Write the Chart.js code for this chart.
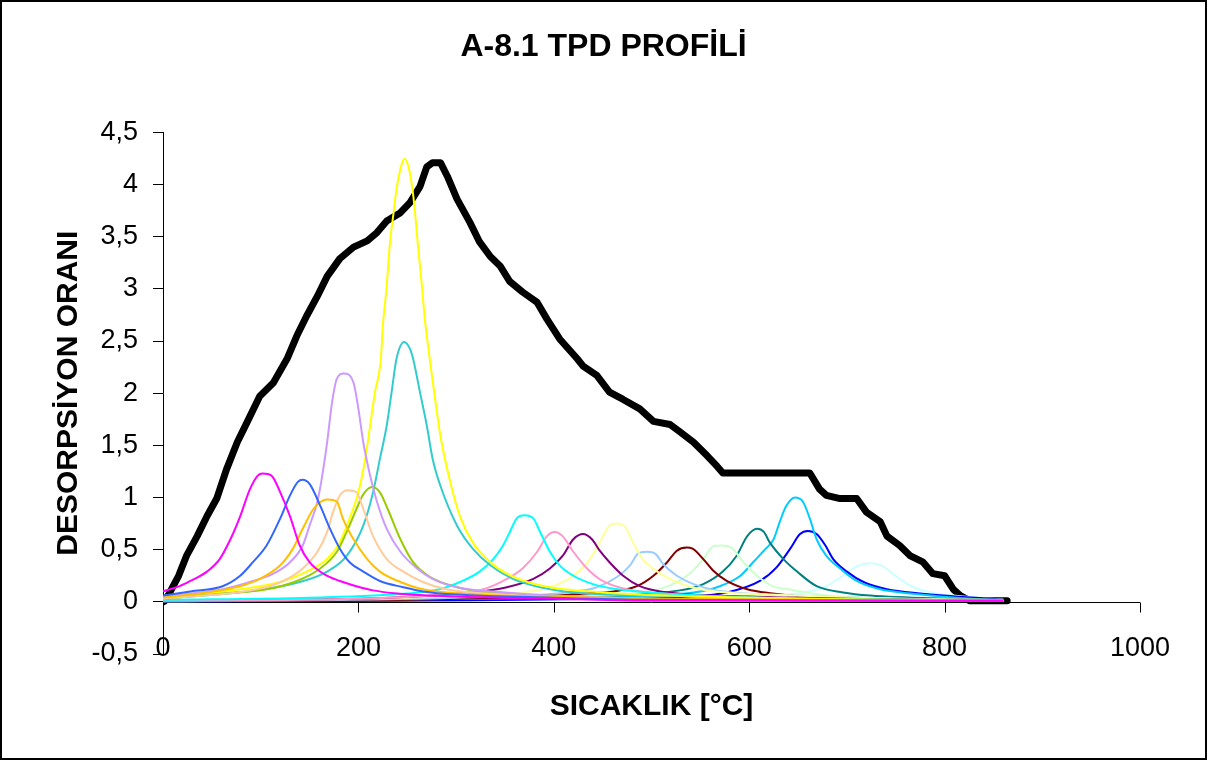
<!DOCTYPE html>
<html>
<head>
<meta charset="utf-8">
<script src="https://cdn.jsdelivr.net/npm/chart.js@4.4.1/dist/chart.umd.min.js"></script>
<style>
  body { margin: 0; background: #fff; }
  #wrap { width: 1207px; height: 761px; }
</style>
</head>
<body>
<div id="wrap"><canvas id="tpd"></canvas></div>
<script>
// temperature [°C] / desorption rate pairs
const totalT = [0, 2, 7, 16, 24, 35, 45, 55, 65, 76, 86, 99, 113, 127, 137, 147, 158, 168, 181, 195, 209, 219, 229, 243, 253, 263, 270, 276, 284, 291, 301, 314, 324, 335, 345, 355, 368, 383, 393, 406, 424, 430, 444, 457, 471, 488, 502, 519, 529, 543, 557, 567, 573, 662, 672, 679, 693, 710, 720, 734, 741, 754, 765, 778, 788, 800, 809, 816, 826, 864];
const totalV = [0, 0.01, 0.09, 0.25, 0.44, 0.63, 0.82, 0.99, 1.27, 1.53, 1.72, 1.97, 2.1, 2.33, 2.55, 2.74, 2.93, 3.12, 3.29, 3.4, 3.46, 3.54, 3.65, 3.73, 3.83, 3.98, 4.17, 4.21, 4.21, 4.08, 3.86, 3.64, 3.45, 3.31, 3.22, 3.07, 2.97, 2.87, 2.71, 2.52, 2.33, 2.26, 2.17, 2.01, 1.94, 1.85, 1.73, 1.7, 1.63, 1.53, 1.4, 1.3, 1.235, 1.235, 1.08, 1.02, 0.99, 0.99, 0.86, 0.77, 0.63, 0.54, 0.44, 0.38, 0.27, 0.25, 0.12, 0.06, 0.01, 0.01];

const p1T = [0, 17, 28, 45, 58, 69, 79, 89, 97, 102, 111, 120, 130, 140, 150, 164, 181, 198, 215, 240, 300, 400, 500, 860];
const p1V = [0.1, 0.15, 0.2, 0.29, 0.41, 0.6, 0.82, 1.08, 1.21, 1.23, 1.21, 1.05, 0.82, 0.54, 0.38, 0.27, 0.2, 0.15, 0.11, 0.08, 0.05, 0.03, 0.01, 0.01];
const p2T = [0, 28, 61, 79, 92, 106, 120, 130, 138, 143, 150, 161, 171, 181, 191, 205, 222, 246, 266, 300, 400, 500, 860];
const p2V = [0.06, 0.1, 0.15, 0.25, 0.38, 0.54, 0.8, 1.02, 1.15, 1.17, 1.13, 0.92, 0.7, 0.51, 0.38, 0.29, 0.2, 0.14, 0.1, 0.07, 0.04, 0.02, 0.01];
const p3T = [0, 45, 79, 99, 120, 133, 143, 154, 168, 178, 184, 195, 209, 222, 243, 266, 320, 400, 500, 860];
const p3V = [0.04, 0.09, 0.15, 0.22, 0.35, 0.51, 0.7, 0.89, 0.98, 0.96, 0.8, 0.6, 0.41, 0.29, 0.19, 0.12, 0.07, 0.05, 0.03, 0.01];
const p4T = [0, 61, 89, 113, 130, 143, 150, 158, 163, 168, 173, 178, 185, 195, 200, 205, 212, 219, 229, 243, 260, 276, 301, 350, 400, 500, 860];
const p4V = [0.05, 0.12, 0.19, 0.27, 0.38, 0.54, 0.73, 0.96, 1.21, 1.53, 1.91, 2.14, 2.19, 2.1, 1.85, 1.53, 1.21, 0.96, 0.7, 0.48, 0.32, 0.22, 0.14, 0.09, 0.06, 0.03, 0.01];
const p5T = [0, 96, 123, 143, 158, 168, 174, 181, 189, 198, 205, 215, 229, 246, 266, 290, 350, 450, 860];
const p5V = [0.03, 0.12, 0.2, 0.32, 0.48, 0.67, 0.86, 1.02, 1.07, 1.05, 0.89, 0.63, 0.41, 0.29, 0.19, 0.12, 0.07, 0.04, 0.01];
const p6T = [0, 61, 106, 137, 161, 178, 188, 198, 205, 214, 222, 230, 243, 256, 273, 301, 324, 400, 500, 860];
const p6V = [0.03, 0.08, 0.12, 0.2, 0.32, 0.48, 0.67, 0.89, 1.03, 1.1, 1.05, 0.89, 0.6, 0.38, 0.24, 0.14, 0.1, 0.06, 0.03, 0.01];
const p7T = [0, 79, 120, 147, 168, 181, 191, 200, 207, 212, 217, 223, 225, 229, 232, 236, 239, 243, 247, 251, 255, 258, 261, 265, 268, 273, 278, 284, 294, 304, 317, 335, 352, 373, 396, 450, 550, 650, 860];
const p7V = [0.04, 0.12, 0.19, 0.29, 0.41, 0.57, 0.8, 1.05, 1.37, 1.69, 2.01, 2.33, 2.64, 3.03, 3.41, 3.73, 3.96, 4.15, 4.25, 4.18, 3.98, 3.73, 3.41, 3.03, 2.71, 2.33, 1.98, 1.59, 1.15, 0.82, 0.57, 0.38, 0.27, 0.19, 0.14, 0.09, 0.05, 0.03, 0.01];
const p8T = [0, 96, 140, 168, 188, 205, 215, 222, 229, 234, 239, 247, 253, 256, 263, 270, 276, 284, 301, 317, 335, 358, 386, 420, 500, 600, 860];
const p8V = [0.03, 0.11, 0.19, 0.29, 0.44, 0.73, 1.05, 1.37, 1.69, 2.01, 2.33, 2.49, 2.42, 2.33, 2.01, 1.69, 1.37, 1.11, 0.73, 0.51, 0.35, 0.22, 0.14, 0.09, 0.06, 0.04, 0.01];
const p9T = [0, 150, 250, 283, 304, 324, 338, 348, 355, 362, 370, 379, 386, 396, 406, 420, 440, 465, 550, 650, 860];
const p9V = [0.02, 0.04, 0.08, 0.12, 0.19, 0.29, 0.41, 0.54, 0.67, 0.8, 0.83, 0.8, 0.67, 0.48, 0.35, 0.25, 0.17, 0.12, 0.06, 0.03, 0.01];
const p10T = [0, 200, 301, 328, 352, 368, 383, 393, 401, 409, 420, 434, 450, 475, 550, 650, 860];
const p10V = [0.01, 0.03, 0.08, 0.12, 0.22, 0.32, 0.48, 0.63, 0.67, 0.63, 0.48, 0.32, 0.2, 0.12, 0.06, 0.03, 0.01];
const p11T = [0, 200, 317, 352, 379, 396, 409, 420, 430, 439, 447, 457, 471, 488, 509, 600, 700, 860];
const p11V = [0.01, 0.03, 0.09, 0.14, 0.22, 0.32, 0.44, 0.6, 0.65, 0.6, 0.49, 0.38, 0.25, 0.15, 0.1, 0.05, 0.03, 0.01];
const p12T = [0, 250, 368, 399, 420, 437, 447, 456, 464, 473, 481, 491, 506, 526, 550, 650, 750, 860];
const p12V = [0.01, 0.04, 0.09, 0.15, 0.25, 0.41, 0.57, 0.72, 0.75, 0.72, 0.57, 0.41, 0.29, 0.19, 0.12, 0.06, 0.03, 0.02];
const p13T = [0, 300, 414, 444, 465, 478, 486, 495, 504, 512, 526, 543, 567, 650, 750, 860];
const p13V = [0.005, 0.04, 0.09, 0.14, 0.24, 0.35, 0.46, 0.48, 0.46, 0.36, 0.25, 0.17, 0.11, 0.06, 0.03, 0.01];
const p14T = [0, 350, 434, 461, 485, 502, 516, 526, 536, 542, 553, 563, 577, 598, 624, 655, 700, 860];
const p14V = [0.005, 0.04, 0.08, 0.1, 0.15, 0.25, 0.38, 0.49, 0.52, 0.51, 0.41, 0.3, 0.2, 0.12, 0.08, 0.05, 0.03, 0.01];
const p15T = [0, 400, 502, 522, 539, 553, 563, 572, 583, 594, 608, 624, 640, 680, 760, 860];
const p15V = [0.01, 0.05, 0.11, 0.17, 0.27, 0.41, 0.53, 0.54, 0.51, 0.38, 0.25, 0.15, 0.12, 0.06, 0.03, 0.01];
const p16T = [0, 400, 529, 553, 573, 587, 598, 608, 615, 621, 635, 649, 669, 696, 724, 800, 860];
const p16V = [0.01, 0.05, 0.11, 0.17, 0.29, 0.44, 0.63, 0.7, 0.67, 0.57, 0.41, 0.29, 0.15, 0.09, 0.06, 0.03, 0.02];
const p17T = [0, 450, 543, 570, 591, 604, 616, 625, 631, 638, 647, 655, 662, 669, 679, 693, 710, 734, 765, 798, 860];
const p17V = [0.01, 0.05, 0.09, 0.15, 0.25, 0.38, 0.5, 0.6, 0.76, 0.92, 1.0, 0.96, 0.8, 0.6, 0.44, 0.32, 0.2, 0.12, 0.08, 0.05, 0.01];
const p18T = [0, 500, 577, 611, 628, 642, 652, 660, 669, 678, 686, 700, 717, 741, 775, 860];
const p18V = [0.005, 0.04, 0.09, 0.2, 0.33, 0.51, 0.65, 0.68, 0.65, 0.54, 0.41, 0.29, 0.19, 0.12, 0.08, 0.02];
const p19T = [0, 550, 655, 679, 696, 710, 724, 737, 751, 768, 792, 823, 860];
const p19V = [0.005, 0.04, 0.09, 0.15, 0.25, 0.34, 0.37, 0.34, 0.24, 0.14, 0.08, 0.05, 0.02];

const peakT = [p1T, p2T, p3T, p4T, p5T, p6T, p7T, p8T, p9T, p10T, p11T, p12T, p13T, p14T, p15T, p16T, p17T, p18T, p19T];
const peakV = [p1V, p2V, p3V, p4V, p5V, p6V, p7V, p8V, p9V, p10V, p11V, p12V, p13V, p14V, p15V, p16V, p17V, p18V, p19V];
const peakColors = ['#FF00FF', '#3366FF', '#FFC000', '#CC99FF', '#FFCC99', '#99CC00', '#FFFF00', '#33CCCC', '#00FFFF', '#FF99CC',
                    '#800080', '#FFFF99', '#99CCFF', '#800000', '#CCFFCC', '#008080', '#00CCFF', '#0000FF', '#CCFFFF'];

const yTicks = [-0.5, 0, 0.5, 1, 1.5, 2, 2.5, 3, 3.5, 4, 4.5];
const xTicks = [0, 200, 400, 600, 800, 1000];

function pts(T, V) {
    return T.map((t, i) => ({ x: t, y: V[i] }));
}

const datasets = peakT.map((T, i) => ({
    label: 'Pik ' + (i + 1),
    data: pts(T, peakV[i]),
    borderColor: peakColors[i],
    borderWidth: 2,
    pointRadius: 0,
    cubicInterpolationMode: 'monotone',
    fill: false
}));
// total profile last so it is painted underneath the peaks
datasets.push({
    label: 'Toplam',
    data: pts(totalT, totalV),
    borderColor: '#000000',
    borderWidth: 7,
    borderJoinStyle: 'round',
    borderCapStyle: 'round',
    pointRadius: 0,
    tension: 0,
    fill: false
});

// white page, outer frame, x axis crossing at y = 0 and its labels down low
const frame = {
    id: 'frame',
    beforeDraw(chart) {
        const ctx = chart.ctx;
        ctx.save();
        ctx.fillStyle = '#fff';
        ctx.fillRect(0, 0, chart.width, chart.height);
        ctx.restore();
    },
    beforeDatasetsDraw(chart) {
        const { ctx, chartArea, scales } = chart;
        const y0 = Math.round(scales.y.getPixelForValue(0)) + 0.5;
        ctx.save();
        ctx.strokeStyle = '#000';
        ctx.lineWidth = 1;
        ctx.beginPath();
        ctx.moveTo(chartArea.left, y0);
        ctx.lineTo(chartArea.right, y0);
        scales.x.ticks.forEach(t => {
            const px = Math.round(scales.x.getPixelForValue(t.value)) + 0.5;
            ctx.moveTo(px, y0);
            ctx.lineTo(px, y0 + 10);
        });
        ctx.stroke();
        ctx.restore();
    },
    afterDraw(chart) {
        const { ctx, scales } = chart;
        ctx.save();
        ctx.fillStyle = '#000';
        ctx.font = "27px 'Liberation Sans', Arial, sans-serif";
        ctx.textAlign = 'center';
        ctx.textBaseline = 'middle';
        const ly = scales.y.getPixelForValue(-0.5) - 5;
        scales.x.ticks.forEach(t => {
            ctx.fillText(String(t.value), scales.x.getPixelForValue(t.value), ly);
        });
        ctx.strokeStyle = '#000';
        ctx.lineWidth = 2;
        ctx.strokeRect(1, 1, chart.width - 2, chart.height - 3);
        ctx.restore();
    }
};

Chart.defaults.font.family = "'Liberation Sans', Arial, sans-serif";
Chart.defaults.color = '#000';

new Chart(document.getElementById('tpd'), {
    type: 'line',
    data: { datasets },
    plugins: [frame],
    options: {
        responsive: true,
        maintainAspectRatio: false,
        animation: false,
        events: [],
        layout: { padding: 0 },
        plugins: {
            legend: { display: false },
            tooltip: { enabled: false },
            title: {
                display: true,
                text: 'A-8.1 TPD PROFİLİ',
                color: '#000',
                font: { size: 32, weight: 'bold' },
                padding: { top: 28, bottom: 66 }
            }
        },
        scales: {
            x: {
                type: 'linear',
                position: 'bottom',
                min: 0,
                max: 1000,
                afterBuildTicks(s) { s.ticks = xTicks.map(v => ({ value: v })); },
                ticks: { display: false },
                grid: { display: false, drawTicks: false },
                border: { display: false },
                title: {
                    display: true,
                    text: 'SICAKLIK [°C]',
                    color: '#000',
                    font: { size: 30, weight: 'bold' },
                    padding: { top: 0, bottom: 36 }
                },
                afterFit(s) { s.height = 107; }
            },
            y: {
                position: 'left',
                min: -0.5,
                max: 4.5,
                afterBuildTicks(s) { s.ticks = yTicks.map(v => ({ value: v })); },
                ticks: {
                    padding: 15,
                    font: { size: 27 },
                    color: '#000',
                    callback: v => String(v).replace('.', ',')
                },
                grid: { drawOnChartArea: false, drawTicks: true, tickLength: 10, color: '#000' },
                border: { display: true, color: '#000', width: 1 },
                title: {
                    display: true,
                    text: 'DESORPSİYON ORANI',
                    color: '#000',
                    font: { size: 30, weight: 'bold' },
                    padding: { top: 51, bottom: 0 }
                },
                afterFit(s) { s.width = 163; }
            },
            yR: {
                position: 'right',
                display: true,
                ticks: { display: false },
                grid: { display: false },
                border: { display: false },
                afterFit(s) { s.width = 67; }
            }
        }
    }
});
</script>
</body>
</html>
